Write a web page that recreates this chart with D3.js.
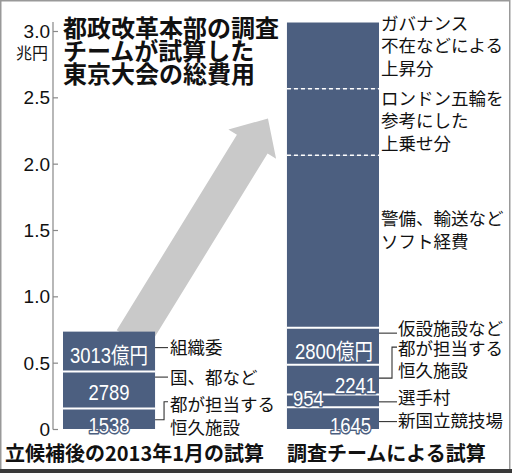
<!DOCTYPE html>
<html><head><meta charset="utf-8">
<script src="https://cdn.jsdelivr.net/npm/d3@7"></script>
<style>
body{margin:0;background:#fff;}
svg{display:block;}
</style></head><body>
<script>
// ---------- data ----------
const categories = ["立候補後の2013年1月の試算", "調査チームによる試算"];
const leftValues = [1538, 2789, 3013];            // 億円, bottom -> top
const leftValueLabels = ["1538", "2789", "3013億円"];
const leftItemLabels = [["都が担当する", "恒久施設"], ["国、都など"], ["組織委"]];
const rightValues = [1645, 954, 2241, 2800, 13000, 5000, 5000]; // 億円, bottom -> top
const rightValueLabels = ["1645", "954", "2241", "2800億円", "", "", ""];
const rightItemLabels = [["新国立競技場"], ["選手村"], ["都が担当する", "恒久施設"], ["仮設施設など"],
  ["警備、輸送など", "ソフト経費"], ["ロンドン五輪を", "参考にした", "上乗せ分"], ["ガバナンス", "不在などによる", "上昇分"]];
const rightSeparatorStyles = ["solid", "solid", "solid", "solid", "dashed", "dashed"];
const yTicks = [0, 0.5, 1.0, 1.5, 2.0, 2.5, 3.0];
const yTickLabels = ["0", "0.5", "1.0", "1.5", "2.0", "2.5", "3.0"];
const unitLabel = "兆円";
const titleLines = ["都政改革本部の調査", "チームが試算した", "東京大会の総費用"];

// ---------- layout ----------
const W = 512, H = 473;
const BAR = "#4c5f80";
const CJK = "'Noto Sans CJK JP','Noto Sans',sans-serif";
const NARROW = "'Liberation Sans Narrow','Liberation Sans','Noto Sans CJK JP',sans-serif";

const svg = d3.select("body").append("svg").attr("width", W).attr("height", H);
svg.append("rect").attr("width", W).attr("height", H).attr("fill", "#fff");

const y = d3.scaleLinear().domain([0, 3]).range([429, 31]);
const x = d3.scaleBand().domain(categories).range([63, 379]).paddingInner(0.589).paddingOuter(0);
const bw = x.bandwidth();
const toT = v => v / 10000; // 億円 -> 兆円

function stack(vals) {
  let c = 0;
  return vals.map(v => { const s = { y0: c, y1: c + v, v }; c += v; return s; });
}
const leftStack = stack(leftValues);
const rightStack = stack(rightValues);
const xl = x(categories[0]), xr = x(categories[1]);

// ---------- arrow (decoration) ----------
{
  const tail = [xl + bw * 0.75, y(toT(leftStack[2].y1)) + 8];
  const tip = [xr - 19, y(2.34)];
  const dx = tip[0] - tail[0], dy = tip[1] - tail[1], len = Math.hypot(dx, dy);
  const u = [dx / len, dy / len], n = [-u[1], u[0]];
  const hw = 18, hh = 28, hl = 30;
  const base = [tip[0] - u[0] * hl, tip[1] - u[1] * hl];
  const P = (p, k) => [p[0] + n[0] * k, p[1] + n[1] * k];
  const pts = [P(tail, hw), P(base, hw), P(base, hh), tip, P(base, -hh), P(base, -hw), P(tail, -hw)];
  svg.append("polygon").attr("points", pts.map(p => p.join(",")).join(" ")).attr("fill", "#c9c9c9");
}

// ---------- bars ----------
function drawBar(stk, x0) {
  const g = svg.append("g");
  g.selectAll("rect").data(stk).join("rect")
    .attr("x", x0).attr("width", bw)
    .attr("y", d => y(toT(d.y1))).attr("height", d => y(toT(d.y0)) - y(toT(d.y1)))
    .attr("fill", BAR);
  return g;
}
const gl = drawBar(leftStack, xl);
const gr = drawBar(rightStack, xr);

// separators
gl.selectAll("line.sep").data(leftStack.slice(0, -1)).join("line")
  .attr("x1", xl).attr("x2", xl + bw)
  .attr("y1", d => y(toT(d.y1))).attr("y2", d => y(toT(d.y1)))
  .attr("stroke", "#fff").attr("stroke-width", 2);
gr.selectAll("line.sep").data(rightStack.slice(0, -1)).join("line")
  .attr("x1", xr).attr("x2", xr + bw)
  .attr("y1", d => y(toT(d.y1))).attr("y2", d => y(toT(d.y1)))
  .attr("stroke", "#fff")
  .attr("stroke-width", (d, i) => rightSeparatorStyles[i] === "dashed" ? 1.5 : 2)
  .attr("stroke-dasharray", (d, i) => rightSeparatorStyles[i] === "dashed" ? "4,3" : null);

// value labels inside bars (condensed)
function valueText(txt, xPos, base, anchor) {
  svg.append("text").text(txt)
    .attr("transform", `translate(${xPos},${base}) scale(0.84,1)`)
    .attr("x", 0).attr("y", 0).attr("text-anchor", anchor)
    .attr("font-family", NARROW).attr("font-size", 22)
    .attr("fill", "#fff").attr("stroke", BAR).attr("stroke-width", 3)
    .attr("paint-order", "stroke").attr("stroke-linejoin", "round");
}
// left bar
valueText(leftValueLabels[2], xl + bw / 2, y(toT(leftStack[2].y0)) - 8.6, "middle");
valueText(leftValueLabels[1], xl + bw / 2, y(toT(leftStack[1].y0)) - 8.6, "middle");
valueText(leftValueLabels[0], xl + bw / 2, y(toT(leftStack[0].y0)) + 4, "middle");
// right bar
valueText(rightValueLabels[3], xr + bw / 2 + 1, y(toT(rightStack[3].y0)) - 5.3, "middle");
valueText(rightValueLabels[2], xr + bw - 3, y(toT(rightStack[2].y0)) - 1.5, "end");
valueText(rightValueLabels[1], xr + 6, y(toT(rightStack[1].y0)) - 1, "start");
valueText(rightValueLabels[0], xr + bw - 8, y(toT(rightStack[0].y0)) + 4, "end");

// ---------- item labels & leaders ----------
const FS = 17.5, LH = 22.5;
function multiline(lines, x0, firstCenter) {
  const t = svg.append("text").attr("font-family", CJK).attr("font-size", FS).attr("fill", "#111");
  lines.forEach((s, i) => t.append("tspan").attr("x", x0).attr("y", firstCenter + i * LH + 0.38 * FS).text(s));
}
function path(pts) {
  svg.append("path").attr("d", d3.line()(pts)).attr("fill", "none").attr("stroke", "#333").attr("stroke-width", 1.1);
}
const mid = d => (y(toT(d.y0)) + y(toT(d.y1))) / 2;

// left
{
  const xe = xl + bw, tx = 170;
  const s2 = mid(leftStack[2]) - 4;
  path([[xe, s2], [tx - 2, s2]]); multiline(leftItemLabels[2], tx, s2);
  const s1 = y(toT(leftStack[1].y1)) + 5.5;
  path([[xe, s1], [tx - 2, s1]]); multiline(leftItemLabels[1], tx, s1);
  const s0 = mid(leftStack[0]) + 1, top0 = s0 - 18;
  path([[xe, s0], [xe + 9, s0], [xe + 9, top0], [tx - 2, top0]]);
  multiline(leftItemLabels[0], tx, top0 + 3);
}
// right, lower group
{
  const xe = xr + bw, tx = 398;
  const s3 = y(toT(rightStack[3].y1)) + 5.5;
  path([[xe, s3], [tx - 1, s3]]); multiline(rightItemLabels[3], tx, s3 - 5);
  const s2 = mid(rightStack[2]) - 1.5, top2 = s2 - 31;
  path([[xe, s2], [xe + 13, s2], [xe + 13, top2], [tx - 1, top2]]);
  multiline(rightItemLabels[2], tx, top2 + 1);
  const s1 = mid(rightStack[1]) + 1;
  path([[xe, s1], [tx - 1, s1]]); multiline(rightItemLabels[1], tx, s1 - 4.5);
  const s0 = mid(rightStack[0]) + 3.5;
  path([[xe, s0], [tx - 1, s0]]); multiline(rightItemLabels[0], tx, s0 - 1.5);
}
// right, upper group (no leaders)
{
  const tx = xr + bw + 2;
  multiline(rightItemLabels[6], tx, y(toT(rightStack[6].y1)) + 0.5);
  multiline(rightItemLabels[5], tx, y(toT(rightStack[5].y1)) + 9.5);
  multiline(rightItemLabels[4], tx, y(toT(rightStack[4].y0)) - 109);
}

// ---------- axis ----------
const axisX = 53;
svg.append("line").attr("x1", axisX).attr("x2", axisX).attr("y1", 22).attr("y2", y(0) + 0.5)
  .attr("stroke", "#888").attr("stroke-width", 1.2);
const ax = svg.append("g").attr("transform", `translate(${axisX},0)`)
  .call(d3.axisLeft(y).tickValues(yTicks).tickFormat((d, i) => yTickLabels[i])
    .tickSizeInner(-5).tickSizeOuter(0).tickPadding(3));
ax.select(".domain").remove();
ax.selectAll(".tick line").attr("stroke", "#888").attr("stroke-width", 1.2);
ax.selectAll(".tick text").attr("font-family", "'Liberation Sans',Arial,sans-serif")
  .attr("font-size", 19).attr("fill", "#111").attr("dy", "0.34em");
svg.append("text").text(unitLabel).attr("x", 48).attr("y", 59).attr("text-anchor", "end")
  .attr("font-family", CJK).attr("font-size", 16).attr("fill", "#111");

// ---------- title ----------
{
  const t = svg.append("text").attr("font-family", CJK).attr("font-size", 24)
    .attr("font-weight", 700).attr("fill", "#111");
  titleLines.forEach((s, i) => t.append("tspan").attr("x", 63).attr("y", 37 + i * 23).text(s));
}

// ---------- category labels ----------
svg.append("g").selectAll("text").data(categories).join("text")
  .text(d => d)
  .attr("x", (d, i) => i === 0 ? 5 : x(d))
  .attr("y", 461)
  .attr("font-family", CJK).attr("font-size", 20).attr("font-weight", 700).attr("fill", "#111");

// ---------- frame ----------
svg.append("rect").attr("x", 0.75).attr("y", 0.75).attr("width", 509).attr("height", 469)
  .attr("fill", "none").attr("stroke", "#999").attr("stroke-width", 1.5);
svg.append("rect").attr("x", 0).attr("y", 469).attr("width", W).attr("height", 4).attr("fill", "#3a3a3a");
</script>
</body></html>
